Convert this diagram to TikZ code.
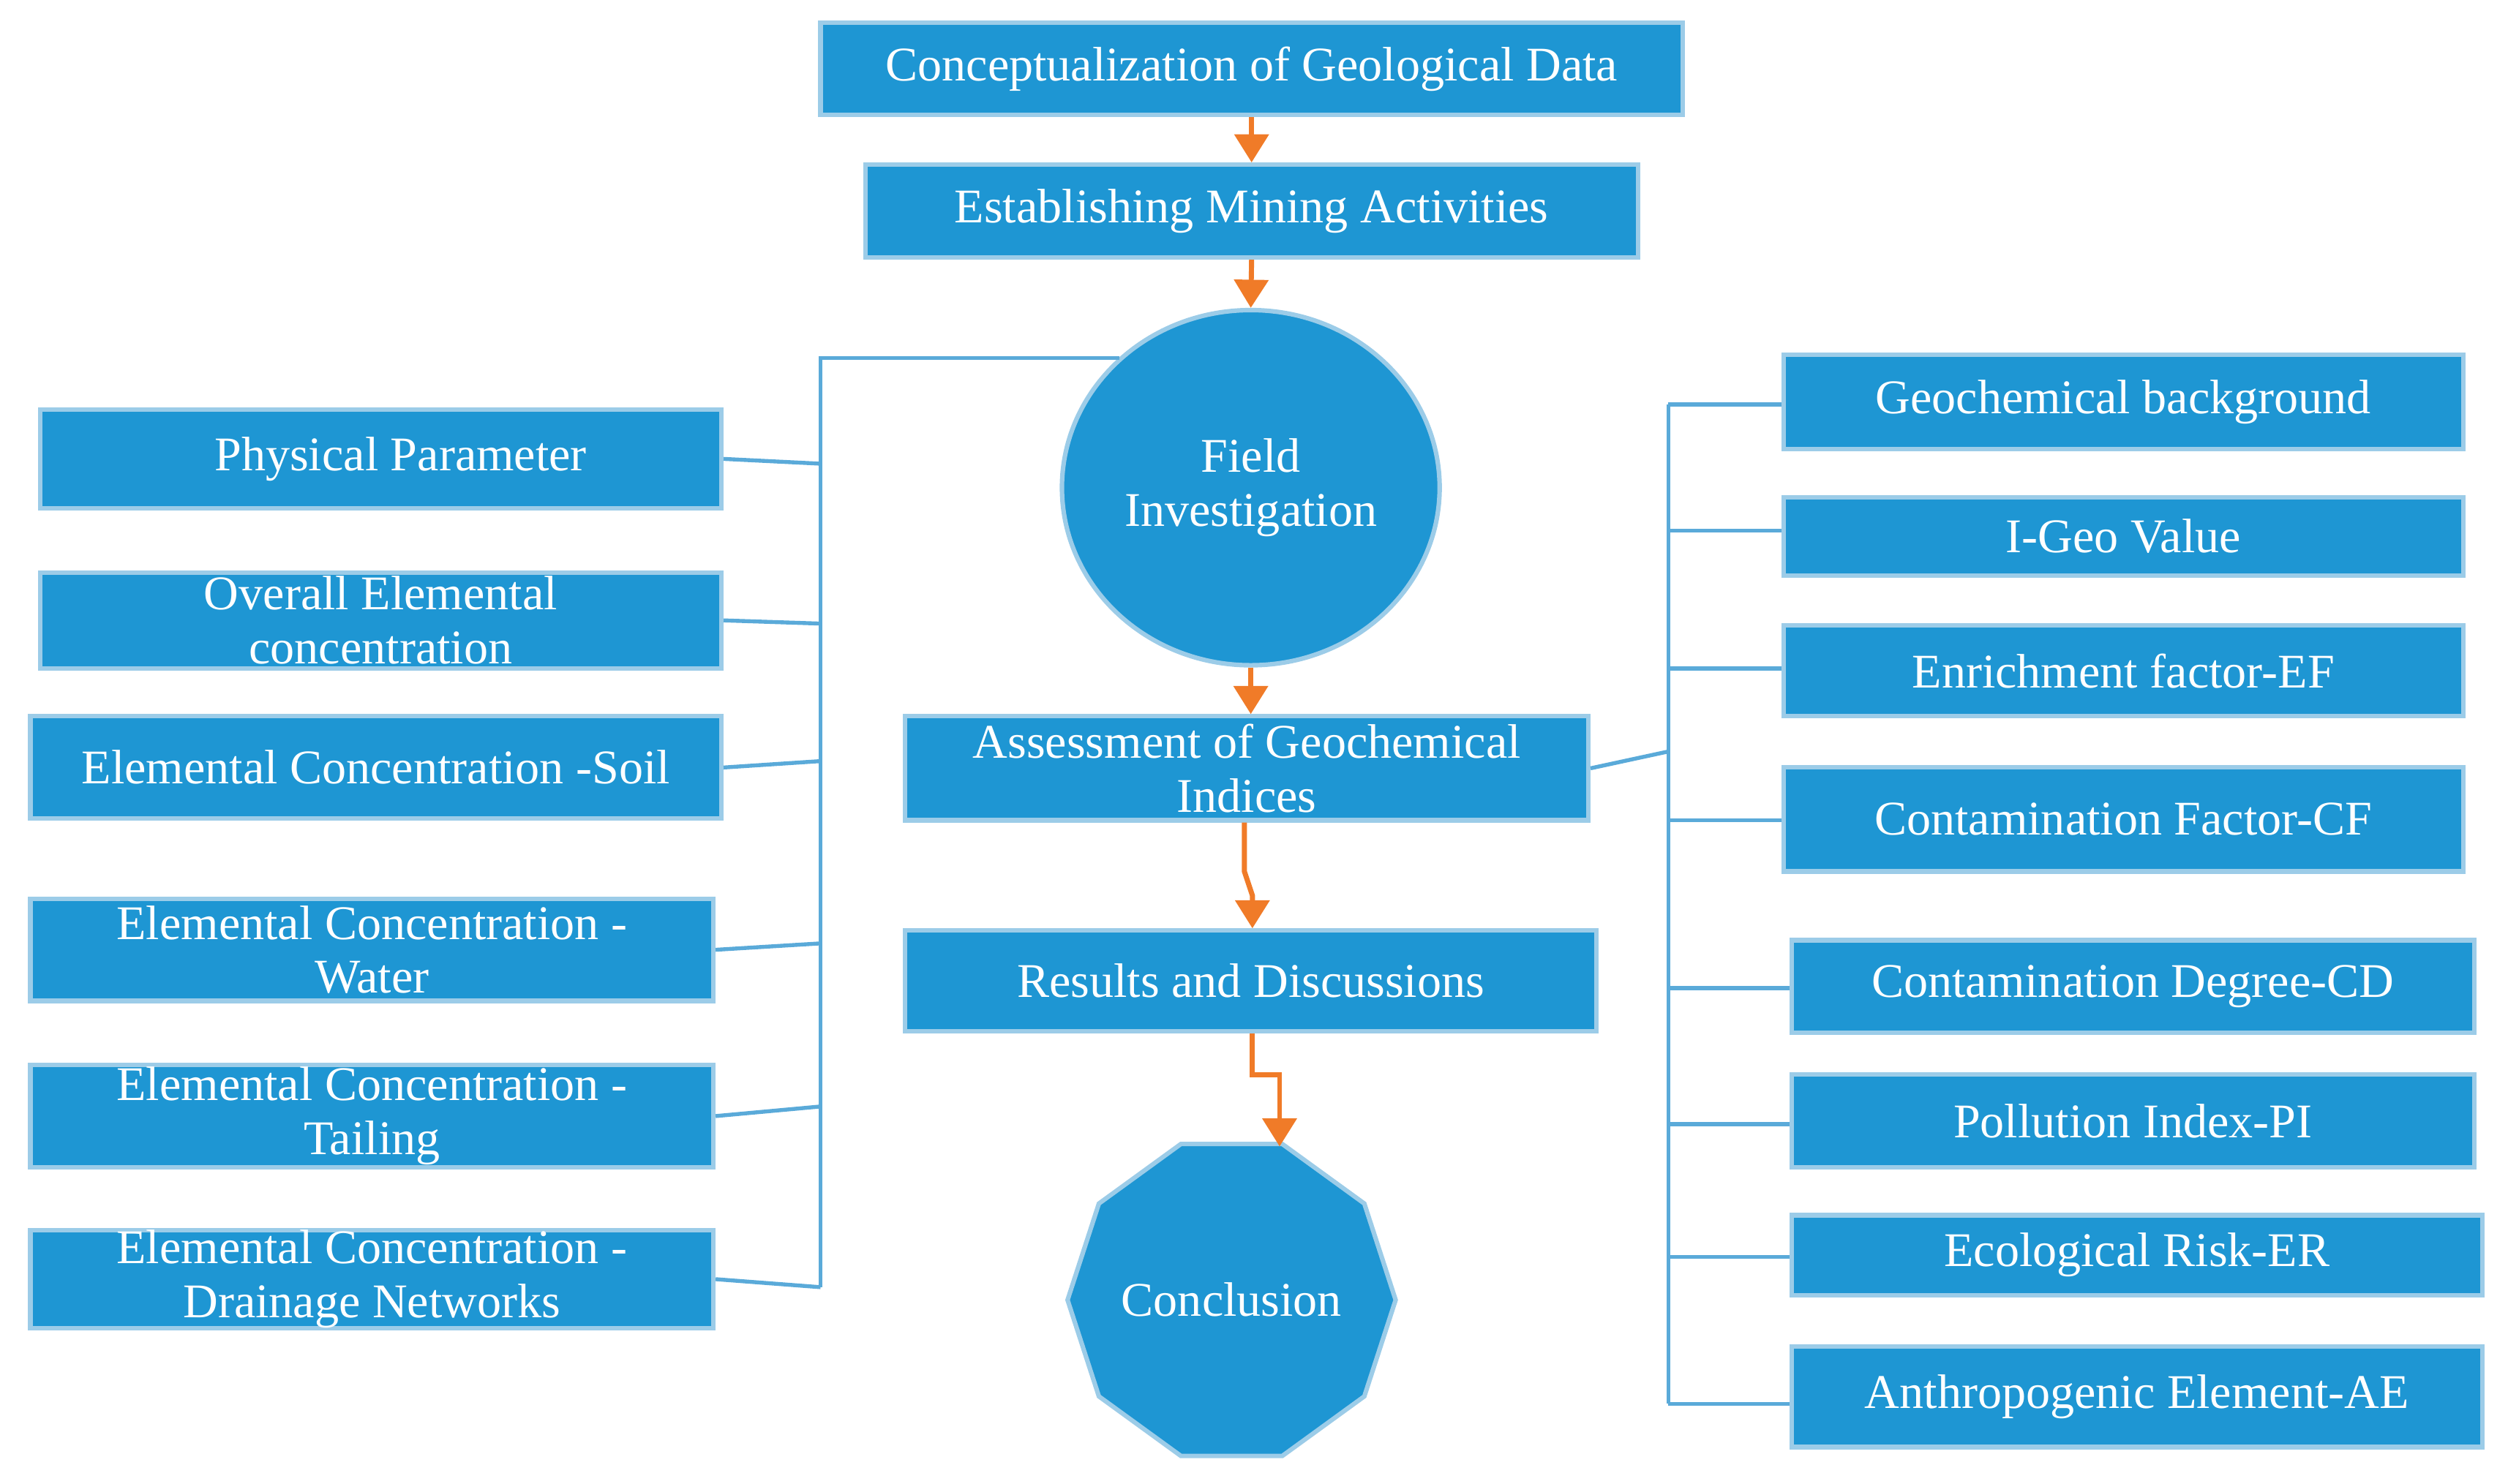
\documentclass[tikz,border=0pt]{standalone}
\usepackage{fontspec}
\setmainfont{Liberation Serif}
\usetikzlibrary{shapes.geometric,arrows.meta}
\definecolor{bfill}{HTML}{1E96D3}
\definecolor{bline}{HTML}{5AAAD9}
\definecolor{org}{HTML}{F07B28}
\begin{document}
\begin{tikzpicture}[x=0.01cm,y=-0.01cm,
  box/.style={draw=bline!60,line width=0.8pt,fill=bfill,text=white,font=\fontsize{8.6}{9.6}\selectfont,align=center,inner sep=0pt},
  link/.style={draw=bline,line width=0.7pt},
  arr/.style={draw=org,line width=0.9pt,-{Triangle[length=5pt,width=6pt]}}]
\useasboundingbox (0,0) rectangle (1568,928);
\newcommand{\bx}[6]{\node[box,minimum width={(#4-#2)*0.01cm},minimum height={(#5-#3)*0.01cm}] (#1) at ({(#2+#4)/2},{(#3+#5)/2}) {#6};}
\bx{c}{513}{14}{1052}{72}{Conceptualization of Geological Data}
\bx{m}{541}{103}{1024}{161}{Establishing Mining Activities}
\node[box,ellipse,minimum width=2.36cm,minimum height=2.22cm] (f) at (782,305) {Field\\Investigation};
\bx{a}{566}{448}{993}{513}{Assessment of Geochemical\\Indices}
\bx{r}{566}{582}{998}{645}{Results and Discussions}
\node[box,regular polygon,regular polygon sides=10,minimum size=2.05cm] (k) at (770,813) {Conclusion};
\bx{l1}{25}{256}{451}{318}{\hspace{0.25cm}Physical Parameter\hfill\null}
\bx{l2}{25}{358}{451}{418}{Overall Elemental\\concentration}
\bx{l3}{19}{448}{451}{512}{Elemental Concentration -Soil}
\bx{l4}{19}{562}{446}{626}{Elemental Concentration -\\Water}
\bx{l5}{19}{666}{446}{730}{Elemental Concentration -\\Tailing}
\bx{l6}{19}{770}{446}{830}{Elemental Concentration -\\Drainage Networks}
\bx{r1}{1115}{222}{1540}{281}{Geochemical background}
\bx{r2}{1115}{311}{1540}{360}{I-Geo Value}
\bx{r3}{1115}{391}{1540}{448}{Enrichment factor-EF}
\bx{r4}{1115}{480}{1540}{545}{Contamination Factor-CF}
\bx{r5}{1120}{588}{1547}{646}{Contamination Degree-CD}
\bx{r6}{1120}{672}{1547}{730}{Pollution Index-PI}
\bx{r7}{1120}{760}{1552}{810}{Ecological Risk-ER}
\bx{r8}{1120}{842}{1552}{905}{Anthropogenic Element-AE}
% left bracket
\coordinate (lt) at (513,224); \coordinate (lb) at (513,805);
\path[link] (f.north west) ++(0,0) coordinate (fc);
\draw[link] (lb) -- (lt) -- (700,224);
\foreach \n/\ya/\yb in {l1/287/290,l2/388/390,l3/480/476,l4/594/590,l5/698/692,l6/800/805}
  \draw[link] (\n.east |- 0,\ya) -- (513,\yb);
% right bracket
\draw[link] (1043,253) -- (1043,878);
\draw[link] (a.east) -- (1043,470);
\foreach \n/\y in {r1/253,r2/332,r3/418,r4/513,r5/618,r6/703,r7/786,r8/878}
  \draw[link] (1043,\y) -- (\n.west |- 0,\y);
% arrows
\draw[arr] (c.south) -- (m.north);
\draw[arr] (m.south) -- (f.north);
\draw[arr] (f.south) -- (a.north -| f.south);
\draw[arr] (a.south -| 778,0) -- (778,545) -- (783,560) -- (r.north -| 783,0);
\draw[arr] (r.south -| 783,0) -- (783,672) -- (800,672) -- (800,717);
\end{tikzpicture}
\end{document}
